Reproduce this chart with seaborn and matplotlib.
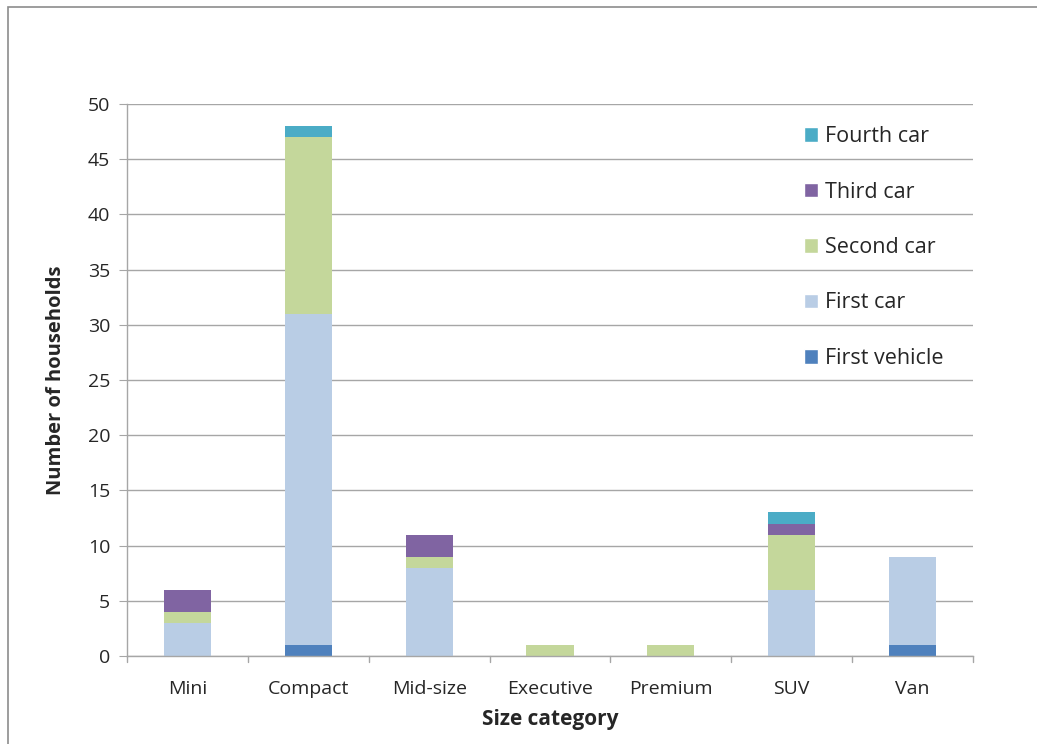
import matplotlib
matplotlib.use("Agg")
import matplotlib.pyplot as plt
import numpy as np
import pandas as pd
import seaborn as sns
from matplotlib.patches import Patch, Rectangle

categories = ["Mini", "Compact", "Mid-size", "Executive", "Premium", "SUV", "Van"]
series_names = ["First vehicle", "First car", "Second car", "Third car", "Fourth car"]
first_vehicle = [0, 1, 0, 0, 0, 0, 1]
first_car = [3, 30, 8, 0, 0, 6, 8]
second_car = [1, 16, 1, 1, 1, 5, 0]
third_car = [2, 0, 2, 0, 0, 1, 0]
fourth_car = [0, 1, 0, 0, 0, 1, 0]
colors = ["#4F81BD", "#B9CDE5", "#C4D79B", "#8064A2", "#4BACC6"]

series = [first_vehicle, first_car, second_car, third_car, fourth_car]
cum = np.cumsum(np.array(series), axis=0)

sns.set_style("white")
plt.rcParams["font.family"] = ["Open Sans", "DejaVu Sans"]

fig = plt.figure(figsize=(10.37, 7.44), dpi=100)
ax = fig.add_axes([127 / 1037, 88 / 744, 846 / 1037, 552 / 744])

# overlapping cumulative bars, tallest first, gives the stacked look
for i in range(len(series) - 1, -1, -1):
    df = pd.DataFrame({"category": categories, "value": cum[i]})
    sns.barplot(data=df, x="category", y="value", color=colors[i], width=0.39,
                saturation=1, linewidth=0, ax=ax, zorder=2)

grid_c = "#a6a6a6"
ax.set_ylim(0, 50)
ax.set_yticks(range(0, 51, 5))
ax.set_xlim(-0.5, len(categories) - 0.5)
ax.yaxis.grid(True, color=grid_c, linewidth=1)
ax.set_axisbelow(True)
for side in ["top", "right"]:
    ax.spines[side].set_visible(False)
for side in ["left", "bottom"]:
    ax.spines[side].set_color(grid_c)
    ax.spines[side].set_linewidth(1)

ax.tick_params(axis="y", left=True, length=6, color=grid_c, labelsize=14, pad=6)
ax.tick_params(axis="x", bottom=False, labelsize=14, pad=14)
for b in np.arange(-0.5, len(categories), 1):
    ax.plot([b, b], [0, -0.011], transform=ax.get_xaxis_transform(), color=grid_c,
            lw=1, clip_on=False)

ax.set_xlabel("Size category", fontsize=15, fontweight="bold", labelpad=8)
ax.set_ylabel("Number of households", fontsize=14.5, fontweight="bold", labelpad=16)

handles = [Patch(facecolor=colors[i], label=series_names[i]) for i in range(len(series) - 1, -1, -1)]
ax.legend(handles=handles, loc="upper left", bbox_to_anchor=(0.777, 0.995),
          frameon=False, fontsize=15.5, handlelength=0.65, handleheight=0.65,
          handletextpad=0.35, labelspacing=1.6, borderaxespad=0.5)

fig.patches.append(Rectangle((8 / 1037, -0.1), 1.2, (744 - 7) / 744 + 0.1,
                             transform=fig.transFigure, fill=False,
                             edgecolor="#8c8c8c", linewidth=1.2))

fig.savefig("out.png", dpi=100)
